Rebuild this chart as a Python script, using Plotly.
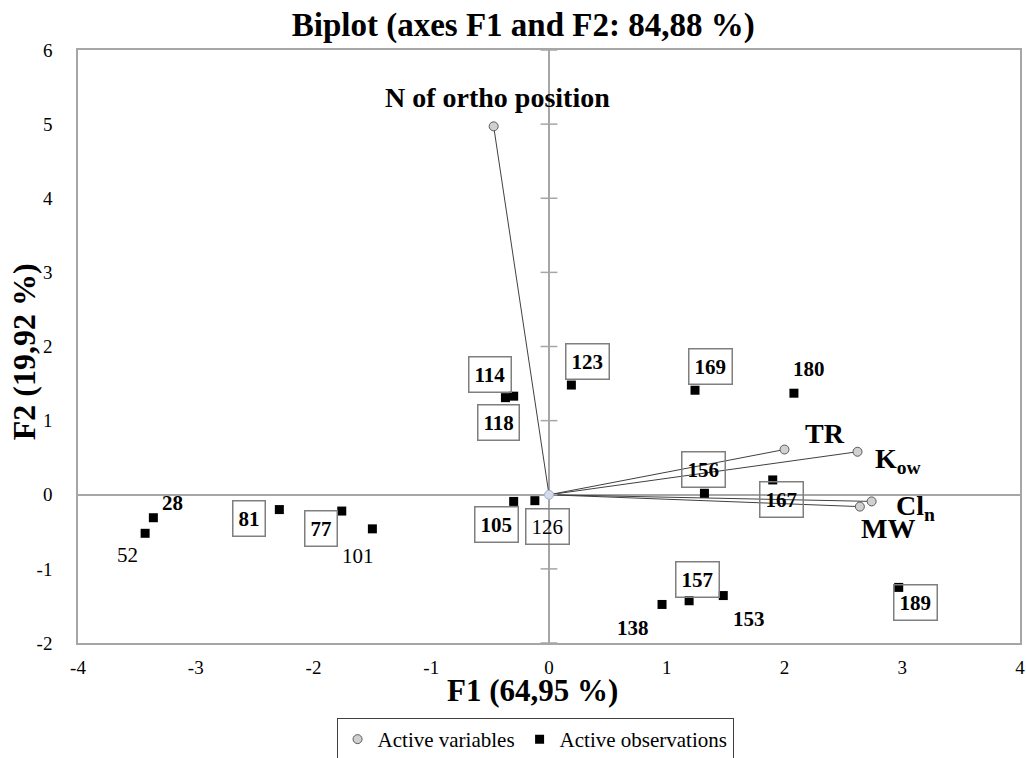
import plotly.graph_objects as go

# ---------------- data ----------------
obs_labels = ["28", "52", "77", "81", "101", "105", "114", "118", "123", "126",
              "138", "153", "156", "157", "167", "169", "180", "189"]
obs_f1 = [-3.36, -3.43, -1.76, -2.29, -1.50, -0.30, -0.37, -0.30, 0.19, -0.12,
          0.96, 1.48, 1.32, 1.19, 1.90, 1.24, 2.08, 2.97]
obs_f2 = [-0.31, -0.52, -0.22, -0.20, -0.46, -0.09, 1.31, 1.33, 1.48, -0.08,
          -1.48, -1.36, 0.02, -1.43, 0.20, 1.41, 1.37, -1.25]

var_names = ["N of ortho position", "TR", "K<sub>ow</sub>", "Cl<sub>n</sub>", "MW"]
var_f1 = [-0.47, 2.00, 2.62, 2.74, 2.64]
var_f2 = [4.97, 0.61, 0.58, -0.09, -0.16]

x_ticks = [-4, -3, -2, -1, 0, 1, 2, 3, 4]
y_ticks = [-2, -1, 0, 1, 2, 3, 4, 5, 6]
x_tick_text = ["-4", "-3", "-2", "-1", "0", "1", "2", "3", "4"]
y_tick_text = ["-2", "-1", "0", "1", "2", "3", "4", "5", "6"]

# ---------------- label placement (pixel offsets, style) ----------------
obs_label_style = {
    # label: (dx, dy, boxed, bold)
    "28": (19, 15, False, True),
    "52": (-18, -22, False, False),
    "77": (-21, -17, True, True),
    "81": (-30, -9, True, True),
    "101": (-14, -27, False, False),
    "105": (-17, -23, True, True),
    "114": (-15, 23, True, True),
    "118": (-15, -26, True, True),
    "123": (16, 24, True, True),
    "126": (13, -26, True, False),
    "138": (-29, -24, False, True),
    "153": (26, -23, False, True),
    "156": (-1, 24, True, True),
    "157": (8, 21, True, True),
    "167": (9, -20, True, True),
    "169": (15, 24, True, True),
    "180": (15, 24, False, True),
    "189": (17, -15, True, True),
}
var_label_offset = [(4, 29), (40, 16), (41, -9), (44, -6), (28, -22)]

FONT = "Liberation Serif, Times New Roman, serif"
AXIS_GRAY = "#a6a6a6"

fig = go.Figure()

# vectors from origin to variables
lx, ly = [], []
for x, y in zip(var_f1, var_f2):
    lx += [0, x, None]
    ly += [0, y, None]
fig.add_trace(go.Scatter(x=lx, y=ly, mode="lines",
                         line=dict(color="#404040", width=1),
                         showlegend=False, hoverinfo="skip"))

# tick marks along the F2 axis at x=0
fig.add_trace(go.Scatter(x=[0] * len(y_ticks), y=y_ticks, mode="markers",
                         marker=dict(symbol="line-ew", size=12,
                                     line=dict(color=AXIS_GRAY, width=1.5)),
                         showlegend=False, hoverinfo="skip", cliponaxis=False))

# origin marker
fig.add_trace(go.Scatter(x=[0], y=[0], mode="markers",
                         marker=dict(symbol="circle", size=9, color="#d6dbe6",
                                     line=dict(color="#9fb2d6", width=1)),
                         showlegend=False, hoverinfo="skip"))

# active variables
fig.add_trace(go.Scatter(x=var_f1, y=var_f2, mode="markers",
                         name="Active variables",
                         marker=dict(symbol="circle", size=9, color="#d0d0d0",
                                     line=dict(color="#5a5a5a", width=1))))

# active observations
fig.add_trace(go.Scatter(x=obs_f1, y=obs_f2, mode="markers",
                         name="Active observations",
                         marker=dict(symbol="square", size=9, color="black",
                                     line=dict(width=0))))

annotations = []
for lab, x, y in zip(obs_labels, obs_f1, obs_f2):
    dx, dy, boxed, bold = obs_label_style[lab]
    txt = f"<b>{lab}</b>" if bold else lab
    a = dict(x=x, y=y, xref="x", yref="y", text=txt, showarrow=False,
             xshift=dx, yshift=dy,
             font=dict(family=FONT, size=21, color="black"))
    if boxed:
        a.update(bordercolor="#7f7f7f", borderwidth=1.5, borderpad=5)
    annotations.append(a)

for name, x, y, (dx, dy) in zip(var_names, var_f1, var_f2, var_label_offset):
    annotations.append(dict(x=x, y=y, xref="x", yref="y", text=f"<b>{name}</b>",
                            showarrow=False, xshift=dx, yshift=dy,
                            font=dict(family=FONT, size=28, color="black")))

# axis titles
annotations.append(dict(x=0.482, y=-0.08, xref="paper", yref="paper",
                        text="<b>F1 (64,95 %)</b>", showarrow=False,
                        xanchor="center", yanchor="middle",
                        font=dict(family=FONT, size=31, color="black")))
annotations.append(dict(x=-0.058, y=0.491, xref="paper", yref="paper",
                        text="<b>F2 (19,92 %)</b>", showarrow=False,
                        textangle=-90, xanchor="center", yanchor="middle",
                        font=dict(family=FONT, size=32, color="black")))

fig.update_layout(
    width=1026, height=758,
    margin=dict(l=78, r=6, t=50, b=115),
    paper_bgcolor="white", plot_bgcolor="white",
    font=dict(family=FONT, color="black"),
    title=dict(text="<b>Biplot (axes F1 and F2: 84,88 %)</b>",
               x=0.51, xanchor="center", y=0.968, yanchor="middle",
               font=dict(family=FONT, size=33, color="black")),
    xaxis=dict(range=[-4, 4], tickvals=x_ticks, ticktext=x_tick_text,
               showgrid=False, automargin=False,
               zeroline=True, zerolinecolor=AXIS_GRAY, zerolinewidth=1.5,
               showline=True, mirror=True, linecolor=AXIS_GRAY, linewidth=1.5,
               ticks="", ticklabelstandoff=6,
               tickfont=dict(family=FONT, size=19, color="black")),
    yaxis=dict(range=[-2, 6], tickvals=y_ticks, ticktext=y_tick_text,
               showgrid=False, automargin=False,
               zeroline=True, zerolinecolor=AXIS_GRAY, zerolinewidth=1.5,
               showline=True, mirror=True, linecolor=AXIS_GRAY, linewidth=1.5,
               ticks="", ticklabelstandoff=20,
               tickfont=dict(family=FONT, size=19, color="black")),
    legend=dict(orientation="h", x=0.5215, xanchor="center",
                xref="container", yref="container", y=0.0528,
                yanchor="top", bordercolor="#404040", borderwidth=1,
                font=dict(family=FONT, size=21, color="black"),
                itemwidth=30, bgcolor="white"),
    annotations=annotations,
    showlegend=True,
)

fig.write_html("out.html", config={"displayModeBar": False},
               post_script="document.body.style.margin='0px';"
                           "document.body.style.overflow='hidden';")
